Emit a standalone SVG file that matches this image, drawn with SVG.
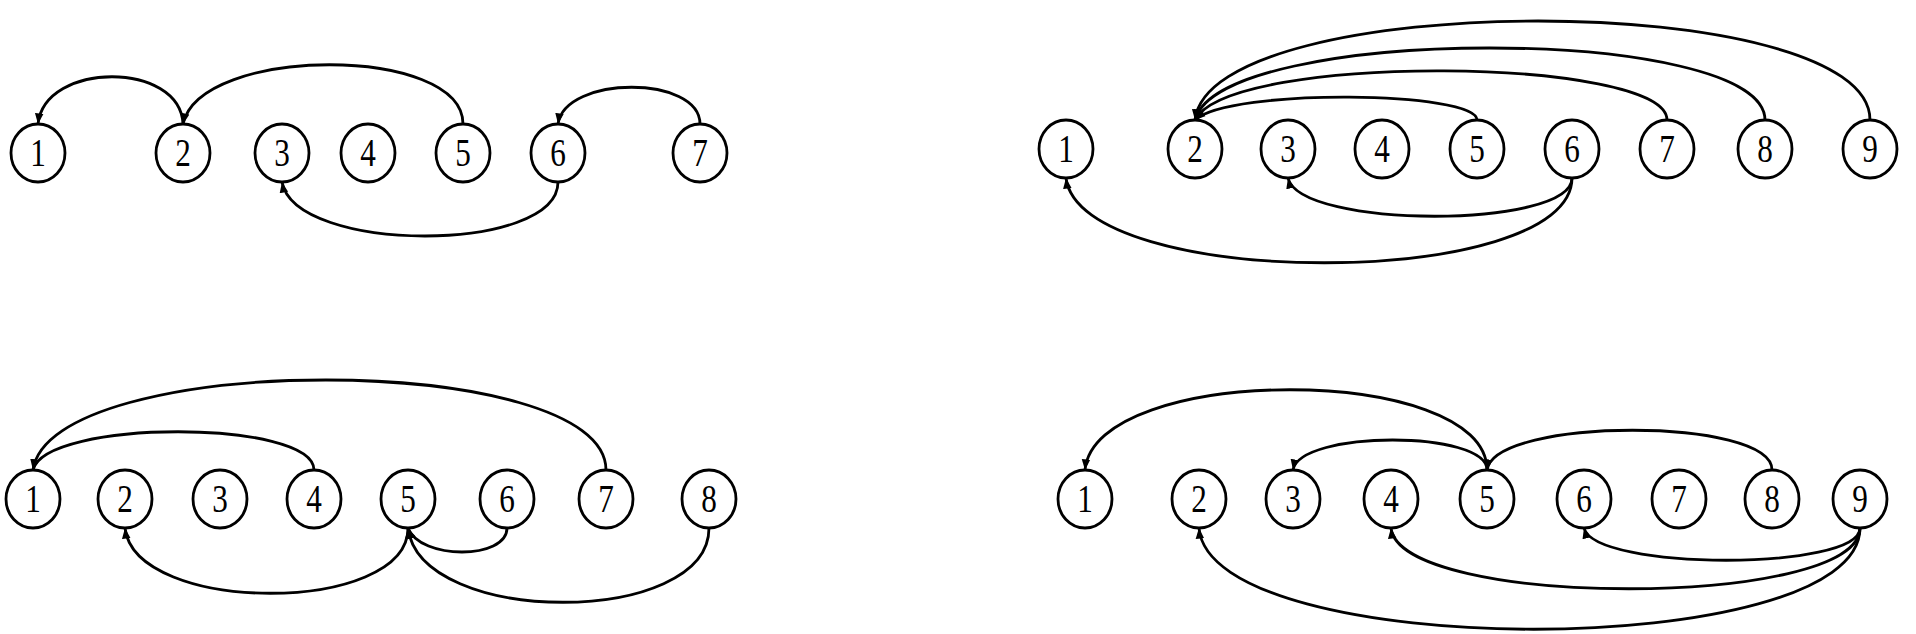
<svg xmlns="http://www.w3.org/2000/svg" width="1916" height="634" viewBox="0 0 1916 634">
<style>
.n ellipse{fill:#fff;stroke:#000;stroke-width:2.8}
.n text{font-family:"Liberation Serif","DejaVu Serif",serif;font-size:40px;fill:#000;text-anchor:middle}
.e path{fill:none;stroke:#000;stroke-width:2.8;marker-end:url(#ah)}
</style>
<defs>
<marker id="ah" viewBox="0 0 10 10" refX="10" refY="5" markerWidth="3.8" markerHeight="3.8" orient="auto" markerUnits="strokeWidth">
<path d="M0,1 L10,5 L0,9 z" fill="#000"/>
</marker>
</defs>
<rect width="1916" height="634" fill="#fff"/>
<g id="connectors" class="e">
<path d="M183,124 C180,61 45,61 38,124"/>
<path d="M463,124 C463,45 200,45 183,124"/>
<path d="M700,124 C700,75 565,75 558,124"/>
<path d="M558,182 C558,254 295,254 282,182"/>
<path d="M1477,120 C1477,91 1230,88 1195,120"/>
<path d="M1667,120 C1667,57 1230,52 1195,120"/>
<path d="M1765,120 C1765,24 1220,24 1195,120"/>
<path d="M1870,120 C1870,-12 1210,-12 1195,120"/>
<path d="M1572,178 C1572,229 1300,229 1288,178"/>
<path d="M1572,178 C1572,291 1080,291 1066,178"/>
<path d="M314,470 C314,419 45,419 33,470"/>
<path d="M606,470 C606,350 50,350 33,470"/>
<path d="M408,528 C408,615 135,615 125,528"/>
<path d="M507,528 C507,560 420,560 408,528"/>
<path d="M709,528 C709,627 420,627 408,528"/>
<path d="M1487,470 C1487,363 1095,363 1085,470"/>
<path d="M1487,470 C1487,430 1300,430 1293,470"/>
<path d="M1772,470 C1772,417 1495,417 1487,470"/>
<path d="M1860,528 C1860,571 1595,571 1584,528"/>
<path d="M1860,528 C1860,609 1400,609 1391,528"/>
<path d="M1860,528 C1860,663 1210,663 1199,528"/>
</g>
<g id="a1" class="n"><ellipse cx="38" cy="153" rx="27" ry="29"/><text transform="translate(38,166) scale(0.78,1)">1</text></g>
<g id="a2" class="n"><ellipse cx="183" cy="153" rx="27" ry="29"/><text transform="translate(183,166) scale(0.78,1)">2</text></g>
<g id="a3" class="n"><ellipse cx="282" cy="153" rx="27" ry="29"/><text transform="translate(282,166) scale(0.78,1)">3</text></g>
<g id="a4" class="n"><ellipse cx="368" cy="153" rx="27" ry="29"/><text transform="translate(368,166) scale(0.78,1)">4</text></g>
<g id="a5" class="n"><ellipse cx="463" cy="153" rx="27" ry="29"/><text transform="translate(463,166) scale(0.78,1)">5</text></g>
<g id="a6" class="n"><ellipse cx="558" cy="153" rx="27" ry="29"/><text transform="translate(558,166) scale(0.78,1)">6</text></g>
<g id="a7" class="n"><ellipse cx="700" cy="153" rx="27" ry="29"/><text transform="translate(700,166) scale(0.78,1)">7</text></g>
<g id="b1" class="n"><ellipse cx="1066" cy="149" rx="27" ry="29"/><text transform="translate(1066,162) scale(0.78,1)">1</text></g>
<g id="b2" class="n"><ellipse cx="1195" cy="149" rx="27" ry="29"/><text transform="translate(1195,162) scale(0.78,1)">2</text></g>
<g id="b3" class="n"><ellipse cx="1288" cy="149" rx="27" ry="29"/><text transform="translate(1288,162) scale(0.78,1)">3</text></g>
<g id="b4" class="n"><ellipse cx="1382" cy="149" rx="27" ry="29"/><text transform="translate(1382,162) scale(0.78,1)">4</text></g>
<g id="b5" class="n"><ellipse cx="1477" cy="149" rx="27" ry="29"/><text transform="translate(1477,162) scale(0.78,1)">5</text></g>
<g id="b6" class="n"><ellipse cx="1572" cy="149" rx="27" ry="29"/><text transform="translate(1572,162) scale(0.78,1)">6</text></g>
<g id="b7" class="n"><ellipse cx="1667" cy="149" rx="27" ry="29"/><text transform="translate(1667,162) scale(0.78,1)">7</text></g>
<g id="b8" class="n"><ellipse cx="1765" cy="149" rx="27" ry="29"/><text transform="translate(1765,162) scale(0.78,1)">8</text></g>
<g id="b9" class="n"><ellipse cx="1870" cy="149" rx="27" ry="29"/><text transform="translate(1870,162) scale(0.78,1)">9</text></g>
<g id="c1" class="n"><ellipse cx="33" cy="499" rx="27" ry="29"/><text transform="translate(33,512) scale(0.78,1)">1</text></g>
<g id="c2" class="n"><ellipse cx="125" cy="499" rx="27" ry="29"/><text transform="translate(125,512) scale(0.78,1)">2</text></g>
<g id="c3" class="n"><ellipse cx="220" cy="499" rx="27" ry="29"/><text transform="translate(220,512) scale(0.78,1)">3</text></g>
<g id="c4" class="n"><ellipse cx="314" cy="499" rx="27" ry="29"/><text transform="translate(314,512) scale(0.78,1)">4</text></g>
<g id="c5" class="n"><ellipse cx="408" cy="499" rx="27" ry="29"/><text transform="translate(408,512) scale(0.78,1)">5</text></g>
<g id="c6" class="n"><ellipse cx="507" cy="499" rx="27" ry="29"/><text transform="translate(507,512) scale(0.78,1)">6</text></g>
<g id="c7" class="n"><ellipse cx="606" cy="499" rx="27" ry="29"/><text transform="translate(606,512) scale(0.78,1)">7</text></g>
<g id="c8" class="n"><ellipse cx="709" cy="499" rx="27" ry="29"/><text transform="translate(709,512) scale(0.78,1)">8</text></g>
<g id="d1" class="n"><ellipse cx="1085" cy="499" rx="27" ry="29"/><text transform="translate(1085,512) scale(0.78,1)">1</text></g>
<g id="d2" class="n"><ellipse cx="1199" cy="499" rx="27" ry="29"/><text transform="translate(1199,512) scale(0.78,1)">2</text></g>
<g id="d3" class="n"><ellipse cx="1293" cy="499" rx="27" ry="29"/><text transform="translate(1293,512) scale(0.78,1)">3</text></g>
<g id="d4" class="n"><ellipse cx="1391" cy="499" rx="27" ry="29"/><text transform="translate(1391,512) scale(0.78,1)">4</text></g>
<g id="d5" class="n"><ellipse cx="1487" cy="499" rx="27" ry="29"/><text transform="translate(1487,512) scale(0.78,1)">5</text></g>
<g id="d6" class="n"><ellipse cx="1584" cy="499" rx="27" ry="29"/><text transform="translate(1584,512) scale(0.78,1)">6</text></g>
<g id="d7" class="n"><ellipse cx="1679" cy="499" rx="27" ry="29"/><text transform="translate(1679,512) scale(0.78,1)">7</text></g>
<g id="d8" class="n"><ellipse cx="1772" cy="499" rx="27" ry="29"/><text transform="translate(1772,512) scale(0.78,1)">8</text></g>
<g id="d9" class="n"><ellipse cx="1860" cy="499" rx="27" ry="29"/><text transform="translate(1860,512) scale(0.78,1)">9</text></g>
</svg>
